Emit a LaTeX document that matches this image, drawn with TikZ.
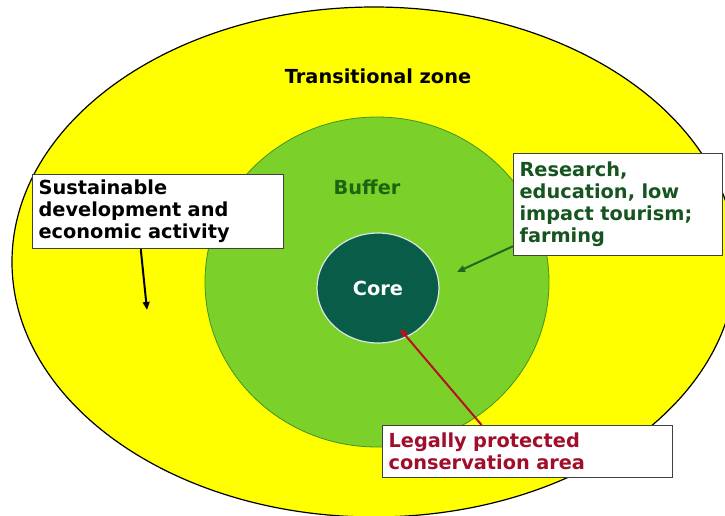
\documentclass[tikz,border=0pt]{standalone}
\usepackage{fontspec}
\setmainfont{DejaVu Sans}
\usetikzlibrary{shapes.geometric,arrows.meta}
\definecolor{zoneyellow}{RGB}{255,255,0}
\definecolor{buffergreen}{RGB}{124,208,42}
\definecolor{bufferedge}{RGB}{62,150,30}
\definecolor{coregreen}{RGB}{8,92,72}
\definecolor{buffertext}{RGB}{28,100,16}
\definecolor{notegreen}{RGB}{22,84,32}
\definecolor{arrowgreen}{RGB}{30,105,30}
\definecolor{notered}{RGB}{160,14,44}
\definecolor{arrowred}{RGB}{180,20,30}
\definecolor{boxedge}{RGB}{64,64,64}
\begin{document}
\begin{tikzpicture}[x=0.75pt,y=-0.75pt,
                    zone/.style = {ellipse,
                                inner sep=0pt},
                    zonetext/.style = {font=\bfseries\fontsize{14.5pt}{16.5pt}\selectfont},
                    note/.style = {draw=boxedge,
                                line width=0.9pt,
                                fill=white,
                                anchor=north west,
                                align=left,
                                inner xsep=4.5pt,
                                inner ysep=0pt,
                                font=\bfseries\fontsize{14.5pt}{16.5pt}\selectfont},
                    pointer/.style = {line width=1.5pt,
                                -{Triangle[length=6pt,width=5pt]}}]
                    \useasboundingbox (0,0) rectangle (725,515);
                    \fill[white] (0,0) rectangle (725,515);
                    % Transitional zone
                    \node[zone, draw=black, line width=0.9pt, fill=zoneyellow,
                          minimum width=543pt, minimum height=382.5pt] (trans) at (374,262) {};
                    % Buffer
                    \node[zone, draw=bufferedge, line width=0.6pt, fill=buffergreen,
                          minimum width=258pt, minimum height=247.5pt] (buffer) at (377,282) {};
                    % Core
                    \node[zone, zonetext, text=white, draw=white!85!coregreen, line width=0.9pt,
                          fill=coregreen, minimum width=91.5pt, minimum height=82.5pt] (core) at (378,288) {Core};
                    % Zone labels
                    \node[zonetext] (transtext) at (378,76) {Transitional zone};
                    \node[zonetext, text=buffertext] (buffertext) at (367,187) {Buffer};
                    % Notes
                    \node[note, text width=179.25pt, minimum height=55.5pt] (sust) at (32,174)
                          {Sustainable\\development and\\economic activity};
                    \node[note, text=notegreen, text width=147.75pt, minimum height=76.5pt] (research) at (513,153)
                          {Research,\\education, low\\impact tourism;\\farming};
                    \node[note, text=notered, text width=208.5pt, minimum height=39pt] (legal) at (382,425)
                          {Legally protected\\conservation area};
                    % Pointers
                    \coordinate (econ) at (147,310);
                    \coordinate (farm) at (457,272);
                    \coordinate (protect) at (400,329);
                    \draw[pointer, black] ([xshift=-13pt]sust.south) -- (econ);
                    \draw[pointer, arrowgreen] ([yshift=7.5pt]research.south west) -- (farm);
                    \draw[pointer, arrowred] ([xshift=-34.5pt]legal.north) -- (protect);
                \end{tikzpicture}
\end{document}
